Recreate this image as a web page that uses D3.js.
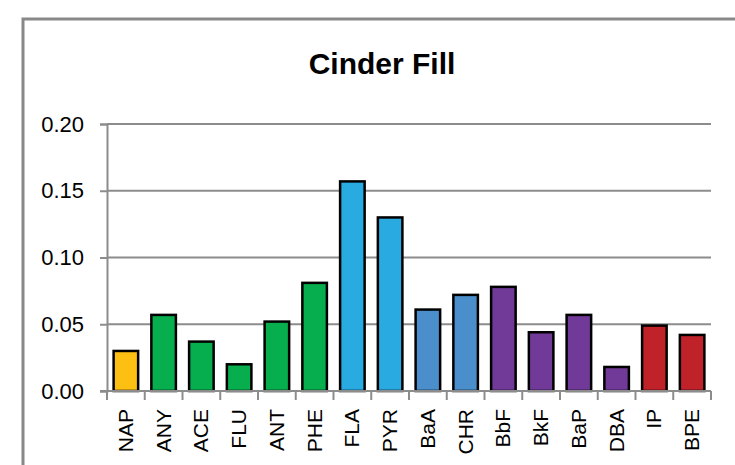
<!DOCTYPE html>
<html>
<head>
<meta charset="utf-8">
<script src="https://cdn.jsdelivr.net/npm/d3@7"></script>
<style>
  html, body { margin: 0; padding: 0; background: #fff; }
  svg { display: block; }
  text { font-family: "Liberation Sans", Arial, sans-serif; fill: #000; }
</style>
</head>
<body>
<svg id="chart" width="735" height="465"></svg>
<script>
// PAH concentrations for the cinder fill sample
const compounds = ["NAP", "ANY", "ACE", "FLU", "ANT", "PHE", "FLA", "PYR",
                   "BaA", "CHR", "BbF", "BkF", "BaP", "DBA", "IP", "BPE"];
const concentrations = [0.030, 0.057, 0.037, 0.020, 0.052, 0.081, 0.157, 0.130,
                        0.061, 0.072, 0.078, 0.044, 0.057, 0.018, 0.049, 0.042];
// ring-count group of each compound
const groups = ["2", "3", "3", "3", "3", "3", "4a", "4a",
                "4b", "4b", "5", "5", "5", "5", "6", "6"];
const groupNames = ["2", "3", "4a", "4b", "5", "6"];
const groupColors = ["#FDBF12", "#07AE4D", "#29ABE2", "#4A8FCB", "#713A98", "#C0222A"];
const yTicks = [0, 0.05, 0.10, 0.15, 0.20];
const title = "Cinder Fill";

const svg = d3.select("#chart");

// outer chart frame
svg.append("rect")
  .attr("x", 23).attr("y", 19)
  .attr("width", 760).attr("height", 480)
  .attr("fill", "none")
  .attr("stroke", "#888")
  .attr("stroke-width", 3);

const plot = { left: 107, right: 711, top: 124, bottom: 391 };

const x = d3.scaleBand()
  .domain(compounds)
  .range([plot.left, plot.right])
  .paddingInner(0.35)
  .paddingOuter(0.175);

const xEdges = d3.scaleLinear()
  .domain([0, compounds.length])
  .range([plot.left, plot.right]);

const y = d3.scaleLinear()
  .domain([0, 0.20])
  .range([plot.bottom, plot.top]);

const color = d3.scaleOrdinal().domain(groupNames).range(groupColors);

// horizontal gridlines
svg.append("g")
  .selectAll("line")
  .data(yTicks.filter(d => d > 0))
  .join("line")
  .attr("x1", plot.left).attr("x2", plot.right)
  .attr("y1", d => y(d)).attr("y2", d => y(d))
  .attr("stroke", "#8c8c8c")
  .attr("stroke-width", 2);

// y axis
const yAxis = svg.append("g")
  .attr("transform", `translate(${plot.left},0)`)
  .call(d3.axisLeft(y).tickValues(yTicks).tickFormat(d3.format(".2f")).tickSize(7).tickPadding(16));
yAxis.select(".domain").attr("stroke", "#8c8c8c").attr("stroke-width", 2);
yAxis.selectAll(".tick line").attr("stroke", "#8c8c8c").attr("stroke-width", 2);
yAxis.selectAll(".tick text")
  .attr("font-size", 22)
  .attr("font-family", "Liberation Sans, Arial, sans-serif")
  .attr("fill", "#000");

// bars
svg.append("g")
  .selectAll("rect")
  .data(compounds.map((c, i) => ({ c, v: concentrations[i], g: groups[i] })))
  .join("rect")
  .attr("x", d => x(d.c))
  .attr("y", d => y(d.v))
  .attr("width", x.bandwidth())
  .attr("height", d => y(0) - y(d.v))
  .attr("fill", d => color(d.g))
  .attr("stroke", "#000")
  .attr("stroke-width", 2.5);

// x axis baseline with category boundary ticks
const xAxis = svg.append("g");
xAxis.append("line")
  .attr("x1", plot.left - 7).attr("x2", plot.right)
  .attr("y1", plot.bottom).attr("y2", plot.bottom)
  .attr("stroke", "#8c8c8c").attr("stroke-width", 2);
xAxis.selectAll("line.edge")
  .data(d3.range(compounds.length + 1))
  .join("line")
  .attr("class", "edge")
  .attr("x1", d => xEdges(d)).attr("x2", d => xEdges(d))
  .attr("y1", plot.bottom).attr("y2", plot.bottom + 9)
  .attr("stroke", "#8c8c8c").attr("stroke-width", 2);

// rotated category labels
xAxis.selectAll("text")
  .data(compounds)
  .join("text")
  .attr("transform", d => `translate(${x(d) + x.bandwidth() / 2 + 7},${plot.bottom + 18}) rotate(-90)`)
  .attr("text-anchor", "end")
  .attr("font-size", 21)
  .text(d => d);

// title
svg.append("text")
  .attr("x", 382).attr("y", 74)
  .attr("text-anchor", "middle")
  .attr("font-size", 30)
  .attr("font-weight", "bold")
  .text(title);
</script>
</body>
</html>
